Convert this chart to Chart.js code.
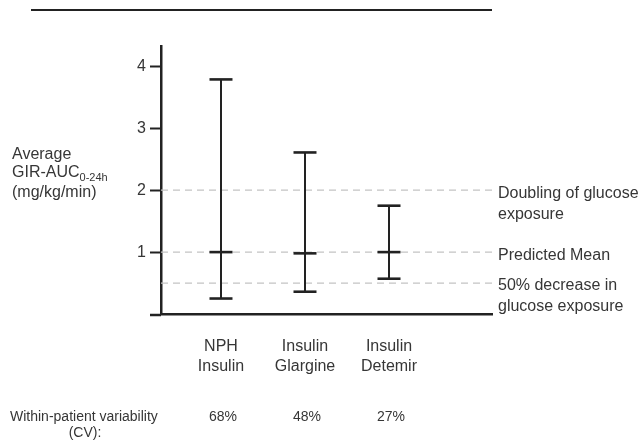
<!DOCTYPE html>
<html>
<head>
<meta charset="utf-8">
<script src="https://cdn.jsdelivr.net/npm/chart.js@4.4.1/dist/chart.umd.min.js"></script>
<style>
    html, body { margin: 0; padding: 0; background: #ffffff; }
    #wrap { width: 641px; height: 443px; position: relative; }
</style>
</head>
<body>
<div id="wrap"><canvas id="chart" width="641" height="443"></canvas></div>
<script>
// Within-patient variability of glucose exposure - error bar chart

const categoryLabels = [['NPH', 'Insulin'], ['Insulin', 'Glargine'], ['Insulin', 'Detemir']];
const meanValues = [1.0, 0.98, 1.0];
const upperValues = [3.79, 2.61, 1.75];
const lowerValues = [0.25, 0.36, 0.57];
const cvLabels = ['68%', '48%', '27%'];
const yTicks = [1, 2, 3, 4];
const refValues = [2, 1, 0.5];
const refLabels = [['Doubling of glucose', 'exposure'], ['Predicted Mean'], ['50% decrease in', 'glucose exposure']];

const X_MIN = 0.286;
const X_MAX = 4.226;
const INK = '#222222';
const TEXT = '#363636';
const FONT = '"Liberation Sans", Arial, sans-serif';

const datasets = [];

// dashed reference lines
refValues.forEach(v => {
    datasets.push({
        data: [{ x: X_MIN, y: v }, { x: X_MAX, y: v }],
        showLine: true,
        borderColor: '#c4c4c4',
        borderWidth: 1.2,
        borderDash: [7, 5],
        pointRadius: 0,
        order: 3
    });
});

// vertical stems
categoryLabels.forEach((c, i) => {
    datasets.push({
        data: [{ x: i + 1, y: lowerValues[i] }, { x: i + 1, y: upperValues[i] }],
        showLine: true,
        borderColor: INK,
        borderWidth: 2,
        pointRadius: 0,
        order: 2
    });
});

// caps at lower, mean and upper values
const capPoints = [];
categoryLabels.forEach((c, i) => {
    capPoints.push({ x: i + 1, y: lowerValues[i] });
    capPoints.push({ x: i + 1, y: meanValues[i] });
    capPoints.push({ x: i + 1, y: upperValues[i] });
});
datasets.push({
    data: capPoints,
    showLine: false,
    pointStyle: 'line',
    pointRadius: 11.5,
    pointBorderWidth: 2.6,
    pointBorderColor: INK,
    borderColor: INK,
    order: 1
});

const textPlugin = {
    id: 'annotations',
    afterDraw(chart) {
        const ctx = chart.ctx;
        const area = chart.chartArea;
        const y = chart.scales.y;
        ctx.save();

        // rule across the top
        ctx.strokeStyle = INK;
        ctx.lineWidth = 2;
        ctx.beginPath();
        ctx.moveTo(31, 10);
        ctx.lineTo(492, 10);
        ctx.stroke();

        // x axis runs a little past the y axis
        ctx.lineWidth = 2.5;
        ctx.beginPath();
        ctx.moveTo(150, area.bottom + 1);
        ctx.lineTo(area.left, area.bottom + 1);
        ctx.stroke();

        ctx.fillStyle = TEXT;
        ctx.textBaseline = 'middle';

        // y axis title
        ctx.textAlign = 'left';
        ctx.font = '16px ' + FONT;
        ctx.fillText('Average', 12, 155);
        ctx.fillText('GIR-AUC', 12, 173);
        const w = ctx.measureText('GIR-AUC').width;
        ctx.font = '11px ' + FONT;
        ctx.fillText('0-24h', 12 + w, 178);
        ctx.font = '16px ' + FONT;
        ctx.fillText('(mg/kg/min)', 12, 193);

        // reference line labels
        refValues.forEach((v, i) => {
            const py = y.getPixelForValue(v) + 3;
            refLabels[i].forEach((line, j) => {
                ctx.fillText(line, area.right + 6, py + j * 21);
            });
        });

        // within-patient variability row
        ctx.font = '14px ' + FONT;
        ctx.textAlign = 'left';
        ctx.fillText('Within-patient variability', 10, 417);
        ctx.textAlign = 'center';
        ctx.fillText('(CV):', 85, 433);
        const x = chart.scales.x;
        cvLabels.forEach((t, i) => {
            ctx.fillText(t, x.getPixelForValue(i + 1) + 2, 417);
        });
        ctx.restore();
    }
};

new Chart(document.getElementById('chart'), {
    type: 'scatter',
    data: { datasets: datasets },
    plugins: [textPlugin],
    options: {
        responsive: false,
        animation: false,
        events: [],
        layout: { padding: { top: 46, right: 149, left: 0, bottom: 0 } },
        plugins: {
            legend: { display: false },
            tooltip: { enabled: false }
        },
        scales: {
            x: {
                type: 'linear',
                min: X_MIN,
                max: X_MAX,
                afterBuildTicks: scale => {
                    scale.ticks = categoryLabels.map((c, i) => ({ value: i + 1 }));
                },
                afterFit: scale => { scale.height = 129; },
                grid: { display: false },
                border: { display: true, color: INK, width: 2.5 },
                ticks: {
                    color: TEXT,
                    font: { size: 16, family: FONT, lineHeight: 1.25 },
                    padding: 15,
                    maxRotation: 0,
                    autoSkip: false,
                    callback: v => categoryLabels[Math.round(v) - 1] || ''
                }
            },
            y: {
                min: 0,
                max: 4.33,
                afterBuildTicks: scale => {
                    scale.ticks = yTicks.map(v => ({ value: v }));
                },
                afterFit: scale => { scale.width = 161; },
                grid: {
                    drawOnChartArea: false,
                    drawTicks: true,
                    tickLength: 11,
                    tickWidth: 2,
                    tickColor: INK
                },
                border: { display: true, color: INK, width: 2.5 },
                ticks: {
                    color: TEXT,
                    font: { size: 16, family: FONT },
                    padding: 4
                }
            }
        }
    }
});
</script>
</body>
</html>
